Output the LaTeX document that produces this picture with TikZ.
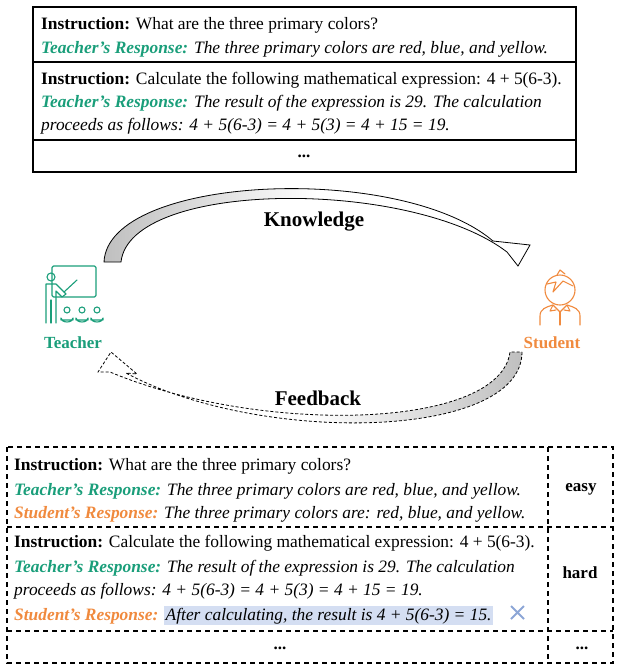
\documentclass[tikz,border=0pt]{standalone}
\usepackage{fontspec}
\setmainfont{Liberation Serif}
\usetikzlibrary{positioning}
\definecolor{teachcolor}{RGB}{26,158,122}
\definecolor{studcolor}{RGB}{240,138,62}
\definecolor{hlcolor}{RGB}{212,222,242}
\definecolor{crosscolor}{RGB}{140,166,214}
\tikzset{
  txt/.style={anchor=base west,inner sep=0pt,font=\fontsize{17.4}{20}\selectfont},
  lbl/.style={inner sep=0pt,font=\fontsize{17}{20}\selectfont\bfseries},
  big/.style={inner sep=0pt,font=\fontsize{21}{24}\selectfont\bfseries},
  dbox/.style={line width=1.2pt,dash pattern=on 5pt off 4pt},
}
\newcommand{\instr}{\textbf{Instruction:} }
\newcommand{\tresp}{\textcolor{teachcolor}{\textbf{\textit{Teacher's Response:}}} }
\newcommand{\sresp}{\textcolor{studcolor}{\textbf{\textit{Student's Response:}}} }
\begin{document}
\begin{tikzpicture}[x=1pt,y=-1pt]
  \useasboundingbox (0,0) rectangle (621,670);
  % top box
  \draw[line width=1.2pt] (33,7) rectangle (576,172);
  \draw[line width=1.2pt] (33,62) -- (576,62);
  \draw[line width=1.2pt] (33,140) -- (576,140);
  \node[txt] (t1) at (41,29) {\instr What are the three primary colors?};
  \node[txt] (t2) at (41,53) {\tresp\textit{The three primary colors are red, blue, and yellow.}};
  \node[txt] (t3) at (41,84) {\instr Calculate the following mathematical expression: 4 + 5(6-3).};
  \node[txt] (t4) at (41,107) {\tresp\textit{The result of the expression is 29. The calculation}};
  \node[txt] (t5) at (41,130) {\textit{proceeds as follows: 4 + 5(6-3) = 4 + 5(3) = 4 + 15 = 19.}};
  \node[lbl] (tdots) at (304,156) {...};

  % teacher icon
  \begin{scope}[teachcolor,line width=1.1pt,line cap=round,line join=round]
    \draw[rounded corners=1.5pt] (52,266) rectangle (96,297);
    \draw (51,277) circle (4);
    \draw (46,323) -- (46,284) -- (56,284) -- (66,294) -- (62,297) -- (56,291) -- (56,323);
    \draw (51,300) -- (51,323);
    \draw (64,292) -- (77,280);
    \foreach \sx in {67,82,97}{
      \draw (\sx,310) circle (3);
      \draw (\sx-6,320) -- (\sx-6,318) arc (180:0:6 and 4) -- (\sx+6,320) -- cycle;
    }
  \end{scope}
  \node[lbl,text=teachcolor] (teacher) at (73,343) {Teacher};

  % student icon
  \begin{scope}[studcolor,line width=1.1pt,line cap=round,line join=round]
    \draw (560,290) circle (15 and 15);
    \draw (547,284) -- (556,282) -- (553,292) -- (563,281) -- (573,286);
    \draw (557,275) -- (560,270) -- (565,274);
    \draw (540,325) -- (540,316) .. controls (540,309) and (546,307) .. (553,305) -- (560,312) -- (567,305)
      .. controls (574,307) and (580,309) .. (580,316) -- (580,325);
    \draw (560,312) -- (560,325);
    \draw (553,305) -- (550,311) -- (556,310);
    \draw (567,305) -- (570,311) -- (564,310);
  \end{scope}
  \node[lbl,text=studcolor] (student) at (552,343) {Student};

  % knowledge arrow
  \shade[left color=gray!50,right color=white,middle color=white,draw=black,line width=0.8pt]
    (104,262) .. controls (108,175) and (400,162) .. (493,241)
    -- (530,245) -- (518,266) -- (507,252)
    .. controls (410,178) and (130,180) .. (121,262) -- cycle;
  \node[big] (know) at (314,222) {Knowledge};

  % feedback arrow
  \shade[right color=gray!50,left color=white,middle color=white,draw=black,line width=0.8pt,dash pattern=on 3pt off 2pt]
    (522,352) .. controls (522,440) and (260,445) .. (126,373)
    -- (137,374) -- (111,352) -- (98,372) -- (110,372)
    .. controls (260,435) and (500,430) .. (510,352) -- cycle;
  \node[big] (feed) at (318,398) {Feedback};

  % bottom box
  \draw[dbox] (7,447) rectangle (613,663);
  \draw[dbox] (7,527) -- (613,527);
  \draw[dbox] (7,631) -- (613,631);
  \draw[dbox] (548,447) -- (548,663);
  \node[txt] (b1) at (14,470) {\instr What are the three primary colors?};
  \node[txt] (b2) at (14,495) {\tresp\textit{The three primary colors are red, blue, and yellow.}};
  \node[txt] (b3) at (14,518) {\sresp\textit{The three primary colors are: red, blue, and yellow.}};
  \node[txt] (b4) at (14,547) {\instr Calculate the following mathematical expression: 4 + 5(6-3).};
  \node[txt] (b5) at (14,572) {\tresp\textit{The result of the expression is 29. The calculation}};
  \node[txt] (b6) at (14,595) {\textit{proceeds as follows: 4 + 5(6-3) = 4 + 5(3) = 4 + 15 = 19.}};
  \node[txt] (b7) at (14,620) {\sresp\setlength{\fboxsep}{1.5pt}\colorbox{hlcolor}{\textit{After calculating, the result is 4 + 5(6-3) = 15.}}};
  \draw[crosscolor,line width=2pt] (511,606) -- (524,619) (524,606) -- (511,619);
  \node[lbl] (easy) at (581,489) {easy};
  \node[lbl] (hard) at (580,573) {hard};
  \node[lbl] (bdots1) at (280,648) {...};
  \node[lbl] (bdots2) at (582,648) {...};
\end{tikzpicture}
\end{document}
